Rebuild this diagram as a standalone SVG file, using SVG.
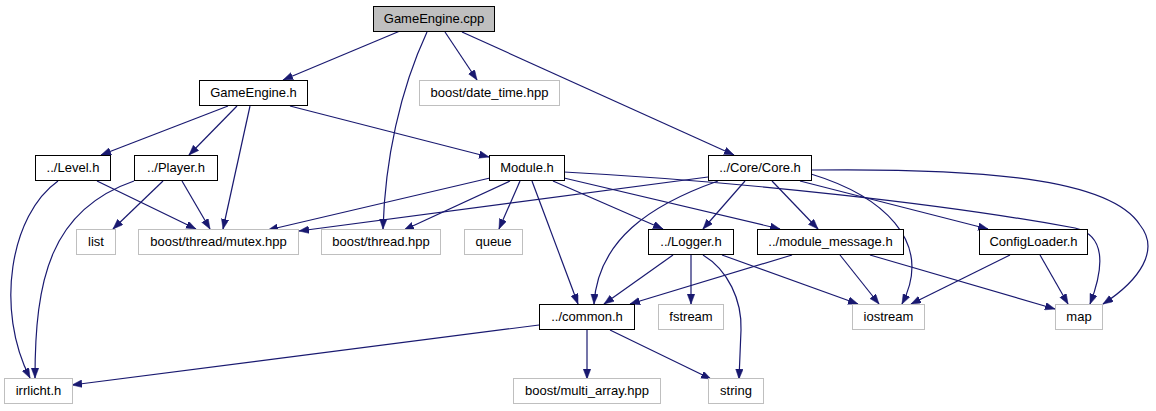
<svg xmlns="http://www.w3.org/2000/svg" width="1156" height="411" viewBox="0 0 1156 411">
<style>
  .n rect { fill: #ffffff; stroke: #000000; stroke-width: 1; }
  .x rect { fill: #ffffff; stroke: #bfbfbf; stroke-width: 1; }
  .root rect { fill: #bfbfbf; stroke: #000000; stroke-width: 1; }
  text { font-family: "Liberation Sans", Arial, sans-serif; font-size: 13px; fill: #000000; text-anchor: middle; }
  .e path { fill: none; stroke: #191970; stroke-width: 1.2; marker-end: url(#ah); }
</style>
<defs>
  <marker id="ah" markerUnits="userSpaceOnUse" markerWidth="11" markerHeight="8" refX="10" refY="3.75" orient="auto">
    <path d="M0,0 L10,3.75 L0,7.5 z" fill="#191970" stroke="#191970" stroke-width="0.5"/>
  </marker>
</defs>
<rect width="1156" height="411" fill="#ffffff"/>
<g id="edges" class="e">
  <path d="M400,31 L283,80"/>
  <path d="M427,32 C400,90 385,160 383,229"/>
  <path d="M445,32 L477,80"/>
  <path d="M462,32 L734,155"/>
  <path d="M228,106 L101,155"/>
  <path d="M237,106 L189,155"/>
  <path d="M250,106 L223,229"/>
  <path d="M290,106 L489,157"/>
  <path d="M58,181 C10,215 -5,310 30,378"/>
  <path d="M97,181 L196,229"/>
  <path d="M134,181 C50,210 35,280 35,378"/>
  <path d="M163,181 L113,229"/>
  <path d="M182,181 L210,229"/>
  <path d="M490,178 L268,230"/>
  <path d="M510,181 L404,230"/>
  <path d="M520,181 L499,229"/>
  <path d="M532,181 L578,304"/>
  <path d="M553,181 L663,229"/>
  <path d="M564,178 L780,229"/>
  <path d="M564,172 C750,182 950,205 1075,228 C1105,235 1105,265 1090,304"/>
  <path d="M708,177 L299,231"/>
  <path d="M745,181 L703,229"/>
  <path d="M772,181 L818,229"/>
  <path d="M718,181 C650,205 598,240 594,304"/>
  <path d="M811,174 C880,195 935,240 902,304"/>
  <path d="M800,181 L988,229"/>
  <path d="M811,170 C980,168 1110,178 1140,225 C1160,250 1140,280 1103,304"/>
  <path d="M673,255 L604,304"/>
  <path d="M691,255 L691,304"/>
  <path d="M703,255 C728,270 742,300 741,330 L739,379"/>
  <path d="M722,255 L858,304"/>
  <path d="M792,255 L630,304"/>
  <path d="M840,255 L879,304"/>
  <path d="M870,255 L1055,309"/>
  <path d="M1010,255 L911,304"/>
  <path d="M1040,255 L1068,304"/>
  <path d="M539,325 L72,385"/>
  <path d="M587,330 L587,379"/>
  <path d="M610,330 L711,379"/>
</g>
<g id="node_gameengine_cpp" class="root"><rect x="373.5" y="6.5" width="121" height="25"/><text x="434" y="23">GameEngine.cpp</text></g>
<g id="node_gameengine_h" class="n"><rect x="199.5" y="80.5" width="108" height="25"/><text x="253.5" y="97">GameEngine.h</text></g>
<g id="node_date_time" class="x"><rect x="419.5" y="80.5" width="140" height="25"/><text x="489.5" y="97">boost/date_time.hpp</text></g>
<g id="node_level" class="n"><rect x="35.5" y="155.5" width="75" height="25"/><text x="73" y="172">../Level.h</text></g>
<g id="node_player" class="n"><rect x="134.5" y="155.5" width="83" height="25"/><text x="176" y="172">../Player.h</text></g>
<g id="node_module" class="n"><rect x="489.5" y="155.5" width="75" height="25"/><text x="527" y="172">Module.h</text></g>
<g id="node_core" class="n"><rect x="708.5" y="155.5" width="103" height="25"/><text x="760" y="172">../Core/Core.h</text></g>
<g id="node_list" class="x"><rect x="76.5" y="229.5" width="39" height="25"/><text x="96" y="246">list</text></g>
<g id="node_mutex" class="x"><rect x="138.5" y="229.5" width="160" height="25"/><text x="218.5" y="246">boost/thread/mutex.hpp</text></g>
<g id="node_thread" class="x"><rect x="321.5" y="229.5" width="119" height="25"/><text x="381" y="246">boost/thread.hpp</text></g>
<g id="node_queue" class="x"><rect x="464.5" y="229.5" width="58" height="25"/><text x="493.5" y="246">queue</text></g>
<g id="node_logger" class="n"><rect x="648.5" y="229.5" width="85" height="25"/><text x="691" y="246">../Logger.h</text></g>
<g id="node_module_message" class="n"><rect x="757.5" y="229.5" width="146" height="25"/><text x="830.5" y="246">../module_message.h</text></g>
<g id="node_configloader" class="n"><rect x="979.5" y="229.5" width="108" height="25"/><text x="1033.5" y="246">ConfigLoader.h</text></g>
<g id="node_common" class="n"><rect x="539.5" y="304.5" width="95" height="25"/><text x="587" y="321">../common.h</text></g>
<g id="node_fstream" class="x"><rect x="658.5" y="304.5" width="65" height="25"/><text x="691" y="321">fstream</text></g>
<g id="node_iostream" class="x"><rect x="852.5" y="304.5" width="72" height="25"/><text x="888.5" y="321">iostream</text></g>
<g id="node_map" class="x"><rect x="1055.5" y="304.5" width="47" height="25"/><text x="1079" y="321">map</text></g>
<g id="node_irrlicht" class="x"><rect x="4.5" y="378.5" width="68" height="25"/><text x="38.5" y="395">irrlicht.h</text></g>
<g id="node_multi_array" class="x"><rect x="513.5" y="378.5" width="147" height="25"/><text x="587" y="395">boost/multi_array.hpp</text></g>
<g id="node_string" class="x"><rect x="708.5" y="378.5" width="55" height="25"/><text x="736" y="395">string</text></g>
</svg>
